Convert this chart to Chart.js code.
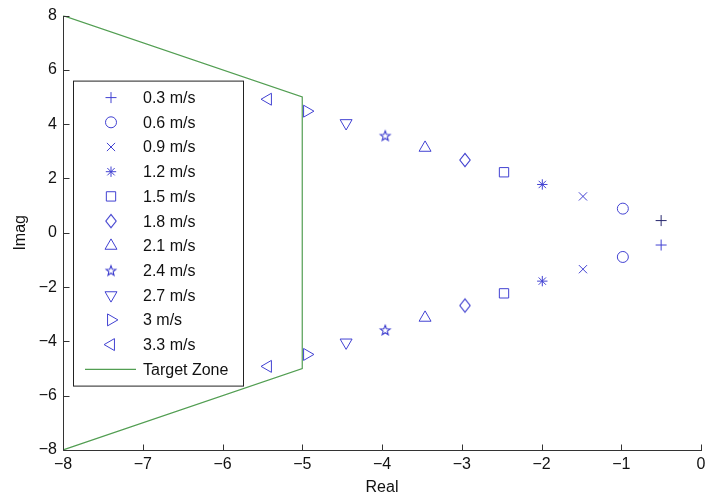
<!DOCTYPE html>
<html>
<head>
<meta charset="utf-8">
<script src="https://cdn.jsdelivr.net/npm/chart.js"></script>
<style>
  html, body { margin: 0; padding: 0; background: #fff; }
  #c { display: block; }
</style>
</head>
<body>
<canvas id="c" width="720" height="497"></canvas>
<script>
// ---- Data ----
const speedLabels = ['0.3 m/s','0.6 m/s','0.9 m/s','1.2 m/s','1.5 m/s','1.8 m/s','2.1 m/s','2.4 m/s','2.7 m/s','3 m/s','3.3 m/s'];
const realParts   = [-0.50, -0.98, -1.48, -1.99, -2.47, -2.96, -3.46, -3.96, -4.45, -4.94, -5.43];
const imagParts   = [0.45, 0.89, 1.34, 1.78, 2.23, 2.68, 3.13, 3.58, 4.04, 4.48, 4.92];
const zoneLabel = 'Target Zone';
const zoneReal = [-8, -5, -5, -8];
const zoneImag = [8, 5, -5, -8];
const xTicks = [-8, -7, -6, -5, -4, -3, -2, -1, 0];
const yTicks = [-8, -6, -4, -2, 0, 2, 4, 6, 8];

// ---- Styling ----
const BLUE = 'rgb(66,66,210)';
const GREEN = 'rgb(82,158,82)';
const FONT = "Arial, 'Liberation Sans', sans-serif";

function makeMarker(w, h, draw) {
  const c = document.createElement('canvas');
  c.width = w; c.height = h;
  const g = c.getContext('2d');
  g.strokeStyle = 'rgb(55,55,205)'; g.lineWidth = 1.05;
  draw(g, w / 2, h / 2);
  return c;
}
const pentagram = makeMarker(16, 16, (g, cx, cy) => {
  const R = 5.2, r = 2.2;
  g.beginPath();
  for (let i = 0; i < 10; i++) {
    const rad = i % 2 ? r : R;
    const a = -Math.PI / 2 + i * Math.PI / 5;
    const px = cx + rad * Math.cos(a), py = cy + 0.5 + rad * Math.sin(a);
    i ? g.lineTo(px, py) : g.moveTo(px, py);
  }
  g.closePath(); g.stroke();
});
const diamond = makeMarker(16, 18, (g, cx, cy) => {
  g.beginPath();
  g.moveTo(cx, cy - 6.6); g.lineTo(cx + 5.2, cy); g.lineTo(cx, cy + 6.6); g.lineTo(cx - 5.2, cy);
  g.closePath(); g.stroke();
});

const markerStyles = [
  {pointStyle: 'cross', radius: 5.5, rotation: 0},
  {pointStyle: 'circle', radius: 5.5, rotation: 0},
  {pointStyle: 'crossRot', radius: 5.8, rotation: 0},
  {pointStyle: 'star', radius: 5.2, rotation: 0},
  {pointStyle: 'rect', radius: 6.6, rotation: 0},
  {pointStyle: diamond, radius: 6, rotation: 0},
  {pointStyle: 'triangle', radius: 6.9, rotation: 0},
  {pointStyle: pentagram, radius: 6, rotation: 0},
  {pointStyle: 'triangle', radius: 6.9, rotation: 180},
  {pointStyle: 'triangle', radius: 6.9, rotation: 90},
  {pointStyle: 'triangle', radius: 6.9, rotation: -90}
];

const datasets = speedLabels.map((lab, i) => ({
  label: lab,
  data: [{x: realParts[i], y: imagParts[i]}, {x: realParts[i], y: -imagParts[i]}],
  pointStyle: markerStyles[i].pointStyle,
  pointRadius: markerStyles[i].radius,
  pointRotation: markerStyles[i].rotation,
  pointBorderColor: i === 0 ? ['rgb(40,40,110)', BLUE] : BLUE,
  pointBackgroundColor: 'rgba(0,0,0,0)',
  pointBorderWidth: 1,
  pointHoverRadius: markerStyles[i].radius,
  showLine: false
}));
datasets.push({
  label: zoneLabel,
  data: zoneReal.map((x, i) => ({x: x, y: zoneImag[i]})),
  showLine: true,
  borderColor: GREEN,
  borderWidth: 1.2,
  pointRadius: 0,
  fill: false
});

const fmt = v => String(v).replace('-', '\u2212');

// Axis lines and inward tick marks (MATLAB-style, box off)
const inwardTicks = {
  id: 'inwardTicks',
  afterDraw(chart) {
    const ctx = chart.ctx, xs = chart.scales.x, ys = chart.scales.y, a = chart.chartArea;
    ctx.save();
    ctx.strokeStyle = '#333'; ctx.lineWidth = 1;
    ctx.beginPath();
    const L = Math.round(a.left) + 0.5, B = Math.round(a.bottom) + 0.5;
    ctx.moveTo(L, Math.round(a.top)); ctx.lineTo(L, B);
    ctx.lineTo(Math.round(a.right) + 1, B);
    xTicks.forEach(v => { const px = Math.round(xs.getPixelForValue(v)) + 0.5; ctx.moveTo(px, B); ctx.lineTo(px, B - 6); });
    yTicks.forEach(v => { const py = Math.round(ys.getPixelForValue(v)) + 0.5; ctx.moveTo(L, py); ctx.lineTo(L + 6, py); });
    ctx.stroke();
    ctx.restore();
  }
};

// Legend box inside the plot area
const innerLegend = {
  id: 'innerLegend',
  afterDatasetsDraw(chart) {
    const ctx = chart.ctx, a = chart.chartArea;
    const left = a.left + 10, top = a.top + 65, w = 170, h = 305;
    ctx.save();
    ctx.fillStyle = '#fff';
    ctx.fillRect(left, top, w, h);
    ctx.strokeStyle = '#222'; ctx.lineWidth = 1;
    ctx.strokeRect(left + 0.5, top + 0.5, w, h);
    const rowH = 24.7, y0 = top + 17;
    ctx.font = '16px ' + FONT;
    ctx.textBaseline = 'middle';
    ctx.textAlign = 'left';
    chart.data.datasets.forEach((ds, i) => {
      const y = y0 + i * rowH;
      if (ds.showLine) {
        ctx.strokeStyle = ds.borderColor; ctx.lineWidth = 1.2;
        ctx.beginPath(); ctx.moveTo(left + 12, y); ctx.lineTo(left + 63, y); ctx.stroke();
      } else {
        ctx.strokeStyle = BLUE; ctx.fillStyle = 'rgba(0,0,0,0)'; ctx.lineWidth = 1;
        Chart.helpers.drawPoint(ctx, {pointStyle: ds.pointStyle, rotation: ds.pointRotation, radius: ds.pointRadius, borderWidth: 1}, left + 38, y);
      }
      ctx.fillStyle = '#111';
      ctx.fillText(ds.label, left + 70, y + 1);
    });
    ctx.restore();
  }
};

new Chart(document.getElementById('c'), {
  type: 'scatter',
  data: {datasets: datasets},
  options: {
    responsive: false,
    animation: false,
    devicePixelRatio: 1,
    layout: {padding: {top: 13, right: 19, left: 0, bottom: 0}},
    plugins: {legend: {display: false}, tooltip: {enabled: false}},
    scales: {
      x: {
        type: 'linear', min: -8, max: 0,
        afterBuildTicks: s => { s.ticks = xTicks.map(v => ({value: v})); },
        afterFit: s => { s.height = 47; },
        grid: {display: false, drawTicks: false},
        border: {display: false},
        ticks: {color: '#111', font: {family: FONT, size: 16}, padding: 5, maxRotation: 0, callback: v => fmt(v)},
        title: {display: true, text: 'Real', color: '#111', font: {family: FONT, size: 16}, padding: {top: 0, bottom: 0}}
      },
      y: {
        type: 'linear', min: -8, max: 8,
        afterBuildTicks: s => { s.ticks = yTicks.map(v => ({value: v})); },
        afterFit: s => { s.width = 63; },
        grid: {display: false, drawTicks: false},
        border: {display: false},
        ticks: {color: '#111', font: {family: FONT, size: 16}, padding: 6, callback: v => fmt(v)},
        title: {display: true, text: 'Imag', color: '#111', font: {family: FONT, size: 16}, padding: {top: 11, bottom: 0}}
      }
    }
  },
  plugins: [inwardTicks, innerLegend]
});
</script>
</body>
</html>
